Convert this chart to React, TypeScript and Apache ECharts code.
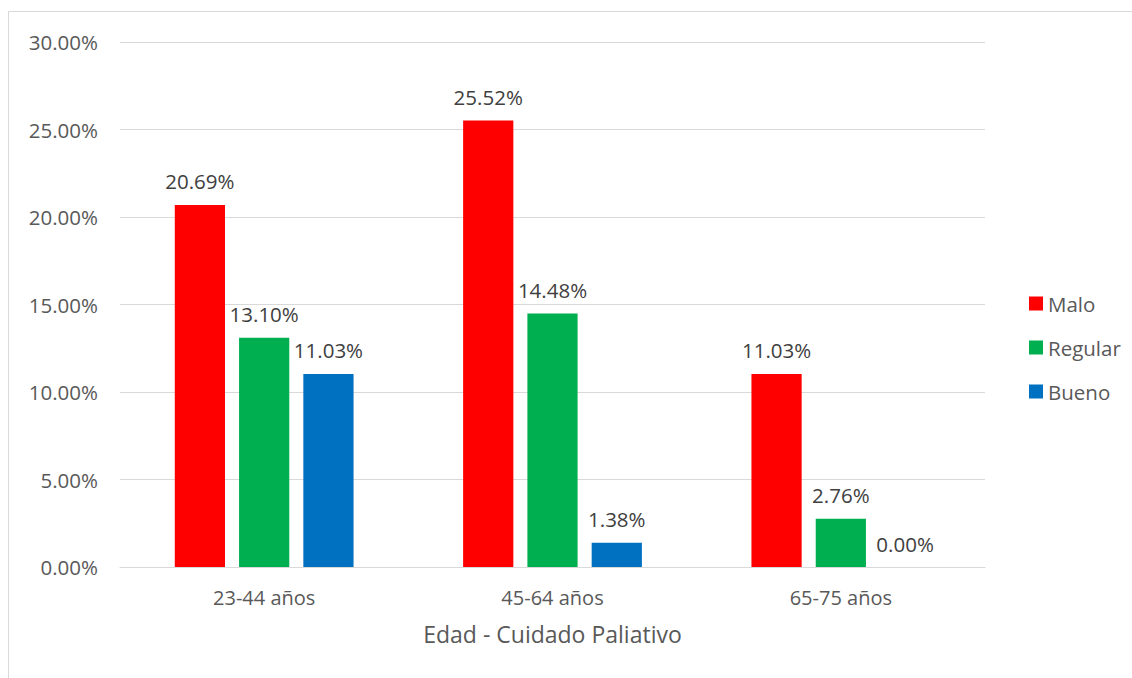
import React, { useEffect, useRef } from "react";
import * as echarts from "echarts";

const categories = ["23-44 años", "45-64 años", "65-75 años"];
const seriesNames = ["Malo", "Regular", "Bueno"];
const malo = [20.69, 25.52, 11.03];
const regular = [13.1, 14.48, 2.76];
const bueno = [11.03, 1.38, 0.0];
const colors = ["#FF0000", "#00B050", "#0070C0"];
const axisTitle = "Edad - Cuidado Paliativo";

const FONT = "Open Sans";
const TEXT = "#595959";

export default function App() {
  const ref = useRef<HTMLDivElement>(null);
  useEffect(() => {
    if (!ref.current) return;
    const chart = echarts.init(ref.current, null, { renderer: "svg" });
    const data = [malo, regular, bueno];
    chart.setOption({
      animation: false,
      backgroundColor: "#FFFFFF",
      textStyle: { fontFamily: FONT, color: TEXT },
      graphic: [
        {
          type: "rect",
          shape: { x: 8.5, y: 11.5, width: 1300, height: 900 },
          style: { fill: "none", stroke: "#D9D9D9", lineWidth: 1 },
          silent: true,
        },
      ],
      grid: { left: 120, right: 147, top: 42, bottom: 111 },
      legend: {
        orient: "vertical",
        left: 1024,
        top: 288,
        itemWidth: 14,
        itemHeight: 14,
        itemGap: 23,
        icon: "rect",
        textStyle: { fontFamily: FONT, fontSize: 20.5, color: TEXT, padding: [0, 0, 0, 0] },
        data: seriesNames,
      },
      xAxis: {
        type: "category",
        data: categories,
        axisLine: { lineStyle: { color: "#D9D9D9", width: 1 } },
        axisTick: { show: false },
        axisLabel: { fontFamily: FONT, fontSize: 20, color: TEXT, margin: 20 },
        name: axisTitle,
        nameLocation: "middle",
        nameGap: 55,
        nameTextStyle: { fontFamily: FONT, fontSize: 23, color: TEXT },
      },
      yAxis: {
        type: "value",
        min: 0,
        max: 30,
        interval: 5,
        axisLine: { show: false },
        axisTick: { show: false },
        splitLine: { lineStyle: { color: "#D9D9D9", width: 1 } },
        axisLabel: {
          fontFamily: FONT,
          fontSize: 20.5,
          color: TEXT,
          margin: 22,
          formatter: (v: number) => `${v.toFixed(2)}%`,
        },
      },
      series: seriesNames.map((name, i) => ({
        name,
        type: "bar",
        data: data[i],
        itemStyle: { color: colors[i] },
        barGap: "28%",
        barCategoryGap: "38%",
        label: {
          show: true,
          position: "top",
          distance: 13,
          fontFamily: FONT,
          fontSize: 20.5,
          color: "#404040",
          formatter: (p: any) => `${Number(p.value).toFixed(2)}%`,
        },
      })),
    });
    return () => chart.dispose();
  }, []);
  return (
    <div
      ref={ref}
      style={{ position: "absolute", left: 0, top: 0, width: 1132, height: 678 }}
    />
  );
}
